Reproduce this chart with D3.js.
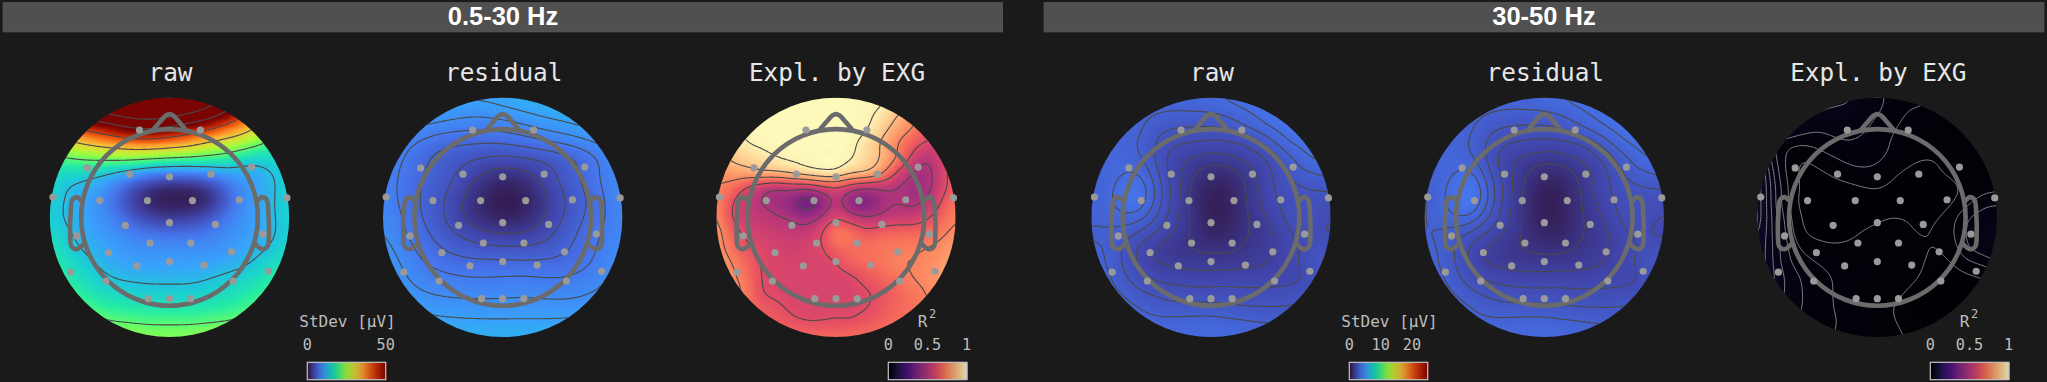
<!DOCTYPE html>
<html>
<head>
<meta charset="utf-8">
<title>Topomaps</title>
<script src="https://cdnjs.cloudflare.com/ajax/libs/d3/7.8.5/d3.min.js"></script>
<style>
  html, body { margin: 0; padding: 0; background: #1a1a1a; overflow: hidden; }
  svg { display: block; }
</style>
</head>
<body>
<svg id="chart" width="2047" height="382"></svg>
<script>
//------------------------------ data ------------------------------//
const bandLabels = ["0.5-30 Hz", "30-50 Hz"];
const mapTitles = ["raw", "residual", "Expl. by EXG"];

// sensor positions, head radius = 1, y up
const sensorX = [-.34,.35,-.93,.93,-.45,0,.47,-1.32,1.33,-.79,-.25,.26,.79,-.5,0,.52,-1.05,1.06,-.22,.24,-.69,.7,-.37,0,.39,-1.12,1.12,-.72,.72,-.24,0,.24];
const sensorY = [.99,.99,.56,.57,.49,.46,.49,.23,.22,.19,.19,.19,.2,-.09,-.06,-.08,-.21,-.19,-.29,-.29,-.4,-.39,-.55,-.5,-.54,-.62,-.61,-.72,-.72,-.92,-.92,-.92];

// value grids over the square around each scalp disc, first row on top
const raw_low = [
  [66,72,78,84,92,94,90,82,72,62,52,44,38],
  [46,50,54,58,63,65,62,58,54,46,38,30,26],
  [30,33,37,40,43,44,42,39,34,31,28,22,18],
  [19,21,22,22.5,23,22,21,20.5,19.5,18,14.5,15,16],
  [15,14,13,11,7.5,5,4,4.2,6,9,10.5,12,15],
  [15.5,12,10.5,7.5,3.5,1.2,.6,.6,1.2,5.5,10,12,15.5],
  [14.5,12,10.5,8.5,5.5,3.2,2.6,3,4.8,8,10,12,15],
  [16,13.5,11,10,9,8,7.8,7.8,8.3,9.5,10.5,12,15],
  [18,15,13,11,10,10,10,10,10,10.5,12,14.5,16],
  [20,17,15,13,12.3,12,12,12,12.8,14,15,17,19],
  [22,20,17.5,16,15.5,15,15,15,15.5,16.5,18,20,22],
  [26,24,21.5,20,19.5,19,19,19,19.5,20,21.5,23,25],
  [30,28,26,25,24.5,24,24,24,24.5,25,26,28,30]
];
const residual_low = [
  [13,12.5,12,11.5,11,11,11.3,11.8,12.3,12.8,13,13.5,14],
  [11.5,11,10,9.5,9,8.9,9.3,9.8,10.4,10.9,11.5,12,12.5],
  [9.8,8.5,7.5,6.9,6.7,6.6,6.7,7.2,8,8.5,9.2,10,11],
  [8.7,7.5,6.3,5.4,4.9,4.5,4.3,4.5,4.7,5.3,6.3,7.8,9],
  [8.3,7.2,6,5.2,4,2.6,1.7,2.1,3.5,5,6.3,7.8,9],
  [8.5,7,5.8,4.7,3,1.5,.6,.9,2.4,4.3,5.6,7.3,9],
  [9,7.4,5.9,4.6,3,1.8,1.1,1.5,2.8,4.5,5.9,7.3,8.5],
  [9.3,7.8,6.6,5.3,4.5,3.7,3.5,3.5,4.1,5.2,6.5,7.7,8.8],
  [10,8.6,7.3,6.5,6,5.9,5.8,5.7,5.8,6.1,6.8,8,9.3],
  [10.5,9.2,8.3,7.9,7.6,7.5,7.6,7.7,7.5,7.5,7.9,8.6,9.8],
  [11.5,10,9.3,9,8.9,8.9,8.9,9,8.9,8.8,9,9.6,11],
  [12.5,11.5,10.8,10.5,10.4,10.3,10.3,10.3,10.3,10.4,10.6,11.5,12.5],
  [13.5,13,12.5,12.3,12,12,12,12,12,12,12.3,13,13.5]
];
const expl_low = [
  [.98,.98,.98,.99,.99,.99,.99,.99,.99,.99,.99,.985,.97,.94,.91,.89,.85],
  [.97,.98,.98,.99,.99,.99,.99,.99,.99,.99,.98,.96,.88,.8,.72,.67,.63],
  [.97,.97,.985,.99,.99,.99,.99,.99,.99,.99,.985,.915,.82,.75,.67,.62,.6],
  [.82,.915,.97,.985,.99,.99,.99,.99,.99,.985,.94,.85,.75,.67,.6,.62,.67],
  [.82,.88,.91,.94,.97,.985,.985,.985,.985,.98,.915,.86,.75,.6,.5,.56,.67],
  [.76,.8,.82,.85,.86,.89,.94,.97,.97,.89,.87,.78,.61,.5,.45,.56,.67],
  [.74,.7,.6,.53,.49,.52,.5,.56,.6,.53,.49,.5,.49,.45,.45,.56,.67],
  [.75,.62,.53,.49,.45,.4,.31,.38,.52,.4,.35,.45,.49,.47,.5,.61,.72],
  [.76,.61,.54,.53,.5,.48,.43,.5,.6,.54,.5,.51,.54,.54,.59,.67,.74],
  [.78,.67,.58,.56,.55,.53,.54,.6,.73,.7,.64,.67,.68,.68,.68,.72,.76],
  [.78,.7,.63,.59,.57,.56,.57,.6,.68,.69,.7,.71,.72,.73,.74,.76,.8],
  [.8,.74,.68,.6,.59,.58,.58,.58,.61,.67,.69,.71,.74,.74,.75,.78,.82],
  [.82,.76,.7,.605,.59,.58,.58,.58,.585,.595,.64,.68,.71,.74,.76,.8,.85],
  [.82,.78,.72,.61,.595,.58,.58,.58,.58,.585,.6,.63,.67,.71,.74,.78,.82],
  [.78,.75,.7,.65,.625,.6,.59,.59,.59,.595,.605,.64,.68,.7,.73,.76,.8],
  [.76,.73,.7,.67,.65,.625,.61,.61,.62,.615,.64,.66,.69,.7,.72,.75,.77],
  [.79,.77,.74,.73,.71,.7,.69,.69,.69,.69,.7,.71,.72,.72,.73,.76,.79]
];
const raw_high = [
  [3.5,3.4,3.3,3.2,3.1,3.1,3.1,3.15,3.2,3.3,3.4,3.5,3.6,3.6,3.7,3.7,3.7],
  [3.3,3.2,3.1,2.95,2.85,2.75,2.75,2.75,2.78,2.9,3.1,3.25,3.45,3.55,3.6,3.7,3.7],
  [3.3,3.2,3.1,2.95,2.65,2.45,2.4,2.38,2.37,2.42,2.7,3,3.25,3.4,3.55,3.6,3.7],
  [3.2,3.1,3,2.8,2.5,2.15,2.02,1.97,1.92,1.93,1.97,2.2,2.65,3.17,3.35,3.5,3.6],
  [3.1,3.05,3,2.9,2.55,1.95,1.7,1.55,1.45,1.5,1.7,1.85,2.1,2.6,3,3.3,3.5],
  [3,3,3.15,3.25,2.75,2,1.62,1.2,.9,.95,1.2,1.6,1.95,2.35,2.75,2.8,3],
  [2.9,3,3.4,3.6,3.05,2.15,1.6,.95,.55,.6,1.05,1.55,1.95,2.2,2.35,2.45,2.5],
  [2.9,3.05,3.45,3.65,2.95,2.15,1.55,.9,.45,.5,1,1.5,1.85,2.15,2.25,2.2,2.15],
  [2.9,2.95,3.05,3.05,2.6,2,1.55,.95,.47,.55,1,1.4,1.7,2.1,2.25,2.2,2],
  [2.7,2.7,2.65,2.4,2.1,1.75,1.5,1,.65,.7,1,1.35,1.5,1.9,2.15,2,1.9],
  [2.9,2.8,2.4,2,1.65,1.4,1.22,1.1,1.05,1.05,1.2,1.4,1.55,1.8,2,2.2,2.3],
  [3,2.8,2.4,2,1.6,1.55,1.5,1.45,1.42,1.42,1.45,1.5,1.6,1.8,2.05,2.4,2.6],
  [3.1,2.9,2.55,2.15,1.95,1.82,1.75,1.72,1.75,1.78,1.78,1.78,1.8,1.85,1.95,2.15,2.4],
  [3.2,3,2.8,2.5,2.35,2.25,2.2,2.15,2.15,2.15,2.1,2.1,2.1,2.12,2.15,2.3,2.6],
  [3.2,3.1,3,2.85,2.65,2.52,2.5,2.5,2.55,2.45,2.42,2.4,2.4,2.4,2.5,2.7,3],
  [3.4,3.3,3.2,3,2.95,2.95,3,3,3,2.95,2.9,2.82,2.78,2.8,2.9,3.1,3.3],
  [3.6,3.6,3.5,3.4,3.3,3.25,3.2,3.2,3.25,3.2,3.15,3.15,3.1,3.1,3.2,3.4,3.6]
];
const residual_high = [
  [3.4,3.3,3.2,3.15,3.05,3.05,3.05,3.1,3.15,3.25,3.35,3.5,3.6,3.6,3.7,3.7,3.7],
  [3.2,3.1,3.05,2.95,2.85,2.75,2.72,2.72,2.75,2.85,3.05,3.2,3.4,3.55,3.6,3.7,3.7],
  [3.2,3.1,3,2.9,2.6,2.4,2.35,2.33,2.33,2.4,2.65,2.95,3.2,3.35,3.5,3.6,3.7],
  [3.1,3.05,2.95,2.8,2.4,2.1,1.98,1.92,1.88,1.9,1.95,2.15,2.6,3.1,3.3,3.45,3.55],
  [3,3,2.95,2.9,2.45,1.9,1.62,1.5,1.4,1.45,1.62,1.8,2.05,2.55,2.95,3.25,3.45],
  [2.9,2.95,3.2,3.35,2.7,1.95,1.55,1.15,.88,.92,1.15,1.55,1.9,2.3,2.7,2.78,2.95],
  [2.75,3,3.45,3.75,3.05,2.1,1.56,.95,.52,.58,1.02,1.5,1.9,2.15,2.3,2.4,2.45],
  [2.7,3.05,3.5,3.8,3,2.1,1.48,.9,.42,.48,.95,1.45,1.8,2.1,2.2,2.15,2.1],
  [2.75,2.95,3.15,3.2,2.55,1.95,1.48,.92,.45,.52,.95,1.35,1.65,2.05,2.2,2.15,1.95],
  [2.8,2.75,2.6,2.35,2.05,1.7,1.42,.98,.62,.68,.98,1.3,1.45,1.85,2.1,1.95,1.85],
  [2.9,2.8,2.4,1.95,1.6,1.38,1.2,1.08,1.02,1.02,1.18,1.38,1.52,1.75,1.95,2.15,2.25],
  [3,2.8,2.4,1.95,1.55,1.5,1.45,1.42,1.4,1.4,1.42,1.48,1.58,1.78,2,2.35,2.55],
  [3.1,2.9,2.55,2.15,1.92,1.8,1.72,1.7,1.72,1.75,1.75,1.75,1.78,1.82,1.92,2.12,2.35],
  [3.2,3,2.8,2.5,2.32,2.22,2.18,2.12,2.12,2.12,2.08,2.08,2.08,2.1,2.12,2.28,2.55],
  [3.2,3.1,3,2.85,2.62,2.5,2.48,2.48,2.52,2.42,2.4,2.38,2.38,2.38,2.48,2.68,2.95],
  [3.4,3.3,3.2,3,2.92,2.92,2.98,2.98,2.98,2.92,2.88,2.8,2.76,2.78,2.88,3.08,3.28],
  [3.6,3.6,3.5,3.4,3.3,3.22,3.18,3.18,3.22,3.18,3.12,3.12,3.08,3.08,3.18,3.38,3.58]
];
const expl_high = [
  [.06,.055,.05,.05,.045,.043,.042,.037,.032,.028,.025,.023,.021,.02,.02,.02,.02],
  [.06,.055,.05,.045,.04,.038,.037,.034,.031,.026,.019,.017,.016,.016,.016,.016,.016],
  [.065,.055,.045,.036,.032,.033,.033,.032,.027,.021,.017,.016,.015,.015,.015,.015,.015],
  [.05,.03,.023,.022,.024,.028,.03,.028,.024,.019,.016,.015,.014,.014,.014,.014,.014],
  [.07,.034,.018,.01,.0145,.019,.023,.024,.022,.018,.014,.0105,.0105,.012,.013,.013,.013],
  [.08,.04,.017,.0075,.008,.0115,.016,.018,.017,.012,.008,.006,.0095,.012,.014,.015,.016],
  [.08,.045,.02,.008,.006,.006,.007,.0095,.011,.008,.005,.004,.005,.008,.012,.015,.017],
  [.08,.045,.02,.006,.004,.003,.003,.004,.005,.004,.003,.003,.004,.009,.016,.026,.028],
  [.08,.047,.025,.0085,.004,.004,.005,.006,.008,.0105,.0095,.006,.0095,.016,.03,.035,.038],
  [.075,.048,.027,.0105,.007,.007,.007,.0105,.013,.014,.012,.009,.012,.018,.032,.036,.04],
  [.07,.05,.03,.018,.013,.011,.012,.014,.015,.016,.014,.011,.0095,.015,.03,.037,.04],
  [.07,.05,.032,.024,.02,.017,.016,.016,.016,.015,.013,.0102,.0085,.0095,.018,.022,.03],
  [.07,.052,.037,.029,.023,.02,.017,.016,.015,.014,.012,.0095,.007,.006,.0075,.01,.012],
  [.06,.05,.037,.03,.024,.02,.017,.015,.014,.012,.0095,.007,.006,.005,.005,.006,.007],
  [.055,.045,.036,.03,.024,.02,.018,.016,.014,.0098,.008,.007,.006,.006,.006,.007,.008],
  [.05,.04,.033,.028,.024,.0205,.019,.017,.014,.0105,.0085,.008,.008,.008,.008,.008,.009],
  [.045,.038,.032,.027,.023,.02,.018,.016,.014,.012,.0095,.009,.009,.009,.009,.009,.009]
];

const grids = [raw_low, residual_low, expl_low, raw_high, residual_high, expl_high];
const contourLevels = [
  [13,21,31,42,53,64],
  [3,4.5,6,7.5,9,10.5],
  [.37,.49,.61,.74,.86,.97],
  [1.2,1.6,2,2.4,2.8,3.2],
  [1.2,1.6,2,2.4,2.8,3.2],
  [.01,.02,.03,.04,.05,.06,.07]
];

const barTicks = [[0,50],[0,0.5,1],[0,10,20],[0,0.5,1]];
const barMax = [50,1,25,1];

//------------------------------ layout ------------------------------//
const mapCenterX = [169.5,502.7,836,1211,1544.3,1877.3];
const mapCenterY = 217.4;
const discR = 119.7;
const headR = 88.3;
const blurRadius = [5,5,3,4.5,4.5,3.5];
const bandBoxes = [[3,1002.7],[1044,2044]];

var svg = d3.select("#chart");

const turboStops = ["#30123b","#4145ab","#4675ed","#39a2fc","#1bcfd4","#24eca6","#61fc6c","#a4fc3b","#d1e834","#f3c63a","#fe9b2d","#f36315","#d93806","#b11901","#7a0402"];
const turbo = d3.piecewise(d3.interpolateRgb, turboStops);
const magma = d3.interpolateMagma;

//------------------------------ headers ------------------------------//
bandLabels.forEach(function(label, i){
  var box = bandBoxes[i];
  svg.append("rect").attr("x", box[0]).attr("y", 2.5).attr("width", box[1]-box[0]).attr("height", 29.5)
    .attr("fill", "#505050").attr("stroke", "#5c5c5c").attr("stroke-width", 0.6);
  svg.append("text").attr("x", i==0 ? 503 : 1544).attr("y", 24.8).attr("text-anchor", "middle")
    .attr("font-family", "Liberation Sans").attr("font-weight", "bold").attr("font-size", 25.5)
    .attr("fill", "#ffffff").text(label);
});

// catmull-rom upsample of a value grid to n x n samples, then a small blur
function resample(grid, n, blur){
  var N = grid.length, out = new Float64Array(n*n);
  function cub(a,b,c,d,t){
    return 0.5*((2*b)+(-a+c)*t+(2*a-5*b+4*c-d)*t*t+(-a+3*b-3*c+d)*t*t*t);
  }
  function at(r,c){
    return grid[Math.max(0,Math.min(N-1,r))][Math.max(0,Math.min(N-1,c))];
  }
  for(var y = 0; y < n; y++){
    var gy = y/(n-1)*(N-1), r0 = Math.min(N-2,Math.floor(gy)), ty = gy-r0;
    for(var x = 0; x < n; x++){
      var gx = x/(n-1)*(N-1), c0 = Math.min(N-2,Math.floor(gx)), tx = gx-c0;
      var col = [];
      for(var k = -1; k <= 2; k++){
        col.push(cub(at(r0+k,c0-1),at(r0+k,c0),at(r0+k,c0+1),at(r0+k,c0+2),tx));
      }
      out[y*n+x] = cub(col[0],col[1],col[2],col[3],ty);
    }
  }
  return d3.blur2({data: out, width: n, height: n}, blur).data;
}

//------------------------------ one scalp map ------------------------------//
function drawMap(i){
  var cx = mapCenterX[i], cy = mapCenterY, g = svg.append("g");
  var isExpl = i%3==2;
  var domainMax = i<3 ? (isExpl ? 1 : 50) : (isExpl ? 1 : 25);
  var color = d3.scaleSequential(isExpl ? magma : turbo).domain([0,domainMax]).clamp(true);

  g.append("text").attr("x", cx+1).attr("y", 81).attr("text-anchor", "middle")
    .attr("font-family", "DejaVu Sans Mono").attr("font-size", 24.4).attr("fill", "#e6e6e6")
    .text(mapTitles[i%3]);

  var clipId = "clip"+i;
  g.append("clipPath").attr("id", clipId).append("circle").attr("cx", cx).attr("cy", cy).attr("r", discR);

  var m = 160, fine = resample(grids[i], m, blurRadius[i]);

  // heat image, 64 px grid smoothed by the browser when scaled up
  var n = 64;
  var canvas = document.createElement("canvas");
  canvas.width = n; canvas.height = n;
  var ctx = canvas.getContext("2d");
  for(var y = 0; y < n; y++){
    for(var x = 0; x < n; x++){
      var fy = Math.round((y+.5)/n*m-.5), fx = Math.round((x+.5)/n*m-.5);
      ctx.fillStyle = color(fine[fy*m+fx]);
      ctx.fillRect(x,y,1,1);
    }
  }
  g.append("image").attr("href", canvas.toDataURL())
    .attr("x", cx-discR).attr("y", cy-discR).attr("width", 2*discR).attr("height", 2*discR)
    .attr("clip-path", "url(#"+clipId+")");

  // contour lines
  var gx = d3.scaleLinear().domain([0.5,m-0.5]).range([cx-discR,cx+discR]);
  var gy = d3.scaleLinear().domain([0.5,m-0.5]).range([cy-discR,cy+discR]);
  var path = d3.geoPath(d3.geoTransform({point: function(a,b){ this.stream.point(gx(a),gy(b)); }}));
  var contours = d3.contours().size([m,m]).thresholds(contourLevels[i])(Array.from(fine));
  var lineColor = i==5 ? "#8f8f8f" : "#4a4a4a";
  g.append("g").attr("clip-path", "url(#"+clipId+")").selectAll("path").data(contours).enter().append("path")
    .attr("d", path).attr("fill", "none").attr("stroke", lineColor).attr("stroke-width", i==5 ? 0.9 : 1.1);

  // head outline
  var hx = d3.scaleLinear().domain([-1,1]).range([cx-headR,cx+headR]);
  var hy = d3.scaleLinear().domain([-1,1]).range([cy+headR,cy-headR]);
  var curve = d3.line().x(function(d){return hx(d[0])}).y(function(d){return hy(d[1])}).curve(d3.curveCatmullRom);
  var nose = [[-0.19,0.985],[-0.11,1.08],[-0.04,1.155],[0,1.17],[0.04,1.155],[0.11,1.08],[0.19,0.985]];
  var earL = [[-1,0.19],[-1.05,0.23],[-1.1,0.2],[-1.12,0.05],[-1.125,-0.2],[-1.11,-0.33],[-1.05,-0.36],[-0.97,-0.3]];
  var earR = earL.map(function(d){return [-d[0],d[1]]});
  g.append("circle").attr("cx", cx).attr("cy", cy).attr("r", headR).attr("fill", "none")
    .attr("stroke", "#6b6b6b").attr("stroke-width", 4.6);
  [nose, earL, earR].forEach(function(shape){
    g.append("path").attr("d", curve(shape)).attr("fill", "none")
      .attr("stroke", "#6b6b6b").attr("stroke-width", 4.6).attr("stroke-linecap", "round");
  });

  // sensors
  g.selectAll("circle.sensor").data(sensorX).enter().append("circle").attr("class", "sensor")
    .attr("cx", function(d){return hx(d)}).attr("cy", function(d,k){return hy(sensorY[k])})
    .attr("r", 3.6).attr("fill", "#9a9a9a");
}

d3.range(6).forEach(drawMap);

//------------------------------ colour bars ------------------------------//
function drawBar(b){
  var x0 = [307.3,888.3,1349.3,1930.3][b], w = 78.4, isExpl = b%2==1;
  var g = svg.append("g");
  var sx = d3.scaleLinear().domain([0,barMax[b]]).range([x0,x0+w]);
  var steps = d3.range(0,w,1);
  g.selectAll("rect.step").data(steps).enter().append("rect").attr("class","step")
    .attr("x", function(d){return x0+d}).attr("y", 362.3).attr("width", 1.2).attr("height", 17.4)
    .attr("fill", function(d){return (isExpl ? magma : turbo)(d/w)});
  g.append("rect").attr("x", x0).attr("y", 362.3).attr("width", w).attr("height", 17.4)
    .attr("fill", "none").attr("stroke", "#c4c4c4").attr("stroke-width", 1.2);

  g.selectAll("text.tick").data(barTicks[b]).enter().append("text").attr("class","tick")
    .attr("x", function(d){return sx(d)}).attr("y", 350).attr("text-anchor","middle")
    .attr("font-family","DejaVu Sans Mono").attr("font-size",15.2).attr("fill","#bdbdbd")
    .text(function(d){return d});

  var mid = x0+w/2;
  if(isExpl){
    g.append("text").attr("x", mid-5).attr("y", 326.7).attr("text-anchor","middle")
      .attr("font-family","DejaVu Sans Mono").attr("font-size",16).attr("fill","#bdbdbd").text("R");
    g.append("text").attr("x", mid+5).attr("y", 318).attr("text-anchor","middle")
      .attr("font-family","DejaVu Sans Mono").attr("font-size",12).attr("fill","#bdbdbd").text("2");
  }else{
    g.append("text").attr("x", mid+1).attr("y", 326.7).attr("text-anchor","middle")
      .attr("font-family","DejaVu Sans Mono").attr("font-size",16).attr("fill","#bdbdbd").text("StDev [μV]");
  }
}
d3.range(4).forEach(drawBar);
</script>
</body>
</html>
